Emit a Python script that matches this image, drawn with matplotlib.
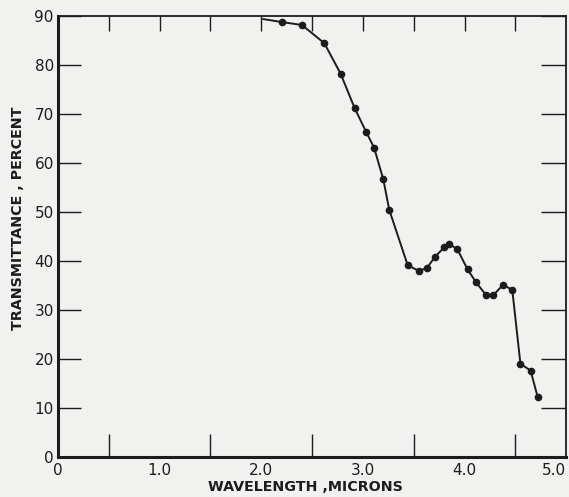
import matplotlib
matplotlib.use('Agg')
import matplotlib.pyplot as plt

# Transmittance vs wavelength
wavelength = [2.02, 2.20, 2.40, 2.62, 2.78, 2.92, 3.03, 3.11, 3.20, 3.26,
              3.44, 3.55, 3.63, 3.71, 3.80, 3.85, 3.93, 4.03, 4.11, 4.21,
              4.28, 4.38, 4.47, 4.55, 4.65, 4.72]
transmittance = [89.3, 88.7, 88.1, 84.4, 78.2, 71.1, 66.4, 63.1, 56.7, 50.4,
                 39.2, 38.0, 38.6, 40.9, 42.8, 43.5, 42.4, 38.3, 35.8, 33.1,
                 33.0, 35.2, 34.1, 19.1, 17.7, 12.3]
# first point is only where the drawn curve starts, no measurement marker
marked = list(range(1, len(wavelength)))

x_labels = ['0', '1.0', '2.0', '3.0', '4.0', '5.0']
x_label_pos = [0, 1, 2, 3, 4, 5]
x_minor = [0.5, 1.0, 1.5, 2.0, 2.5, 3.0, 3.5, 4.0, 4.5]
y_ticks = [0, 10, 20, 30, 40, 50, 60, 70, 80, 90]

ink = '#1c1c1c'
paper = '#f1f1ef'

fig = plt.figure(figsize=(5.69, 4.97), dpi=100, facecolor=paper)
ax = fig.add_axes([0.102, 0.0795, 0.893, 0.889], facecolor=paper)

ax.plot(wavelength, transmittance, color=ink, linewidth=1.4,
        marker='o', markersize=4.5, markevery=marked,
        markerfacecolor=ink, markeredgecolor=ink)

ax.set_xlim(0, 5.0)
ax.set_ylim(0, 90)

# spines: heavy left/bottom, lighter top/right
for side in ['left', 'bottom']:
    ax.spines[side].set_linewidth(2.2)
    ax.spines[side].set_color(ink)
for side in ['top', 'right']:
    ax.spines[side].set_linewidth(1.3)
    ax.spines[side].set_color(ink)

# bottom: tall inward ticks every 0.5, labels on whole microns
ax.set_xticks(x_label_pos)
ax.set_xticklabels(x_labels)
ax.set_xticks(x_minor, minor=True)
ax.tick_params(axis='x', which='major', length=0, pad=4,
               labelsize=11, labelcolor=ink)
ax.tick_params(axis='x', which='minor', direction='in', length=16.5,
               width=1.0, color=ink, bottom=True)
ax.get_xticklabels()[-1].set_horizontalalignment('right')

ax.set_yticks(y_ticks)
ax.tick_params(axis='y', which='major', direction='in', length=16.5,
               width=1.0, color=ink, pad=3, labelsize=11, labelcolor=ink)
ax.yaxis.get_major_ticks()[0].tick1line.set_visible(False)

# top ticks (shorter) and right ticks (no labels)
top = ax.secondary_xaxis('top')
top.set_xticks(x_minor)
top.tick_params(direction='in', length=11, width=1.0, color=ink,
                labeltop=False)
top.spines['top'].set_visible(False)

right = ax.secondary_yaxis('right')
right.set_yticks(y_ticks[1:])
right.tick_params(direction='in', length=18, width=1.0, color=ink,
                  labelright=False)
right.spines['right'].set_visible(False)

ax.set_xlabel('WAVELENGTH ,MICRONS', fontsize=10.3, fontweight='bold',
              color=ink)
ax.xaxis.set_label_coords(0.486, -0.05)
ax.set_ylabel('TRANSMITTANCE , PERCENT', fontsize=10.3, fontweight='bold',
              color=ink)
ax.yaxis.set_label_coords(-0.065, 0.542)

fig.savefig('out.png', dpi=100, facecolor=paper)
